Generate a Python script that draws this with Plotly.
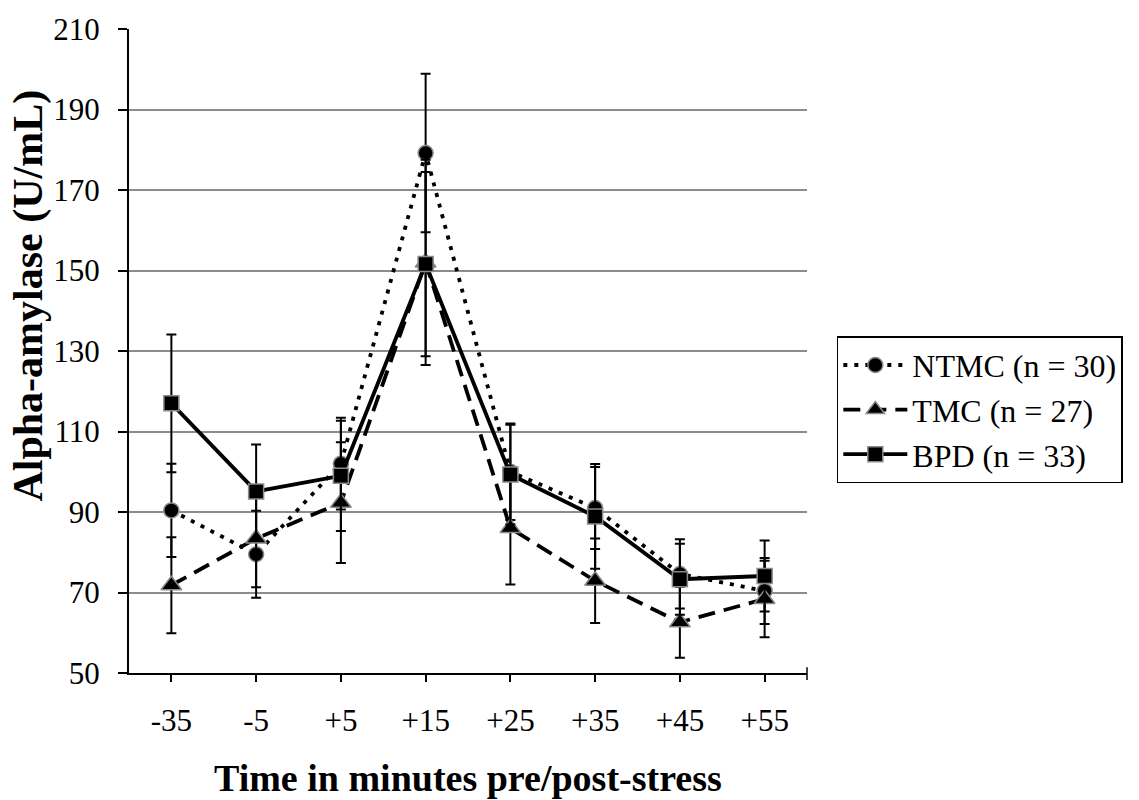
import plotly.graph_objects as go

categories = ["-35", "-5", "+5", "+15", "+25", "+35", "+45", "+55"]

ntmc = [90.4, 79.5, 102.0, 179.2, 100.0, 91.0, 74.6, 70.4]
ntmc_err = [11.6, 10.8, 11.4, 19.7, 12.0, 10.2, 8.6, 8.2]

tmc = [71.8, 83.4, 92.3, 152.0, 86.0, 72.9, 62.6, 68.4]
tmc_err = [11.9, 12.1, 15.0, 25.5, 14.0, 10.5, 8.8, 9.5]

bpd = [117.0, 95.1, 99.0, 151.6, 99.3, 88.9, 73.3, 74.1]
bpd_err = [17.1, 11.7, 13.7, 22.9, 12.4, 13.0, 8.8, 8.8]

y_ticks = [50, 70, 90, 110, 130, 150, 170, 190, 210]

FONT = "Liberation Serif, Times New Roman, serif"

fig = go.Figure()

def add(name, vals, errs, symbol, size, dash):
    fig.add_trace(go.Scatter(
        x=categories, y=vals, name=name, mode="lines+markers",
        line=dict(color="black", width=3.8, dash=dash),
        marker=dict(symbol=symbol, size=size, color="black",
                    line=dict(color="#8a8a8a", width=1.5)),
        error_y=dict(type="data", array=errs, visible=True,
                     color="black", thickness=2, width=5),
    ))

add("NTMC (n = 30)", ntmc, ntmc_err, "circle", 15, "4px,7px")
add("TMC (n = 27)", tmc, tmc_err, "triangle-up", 18, "17px,9px")
add("BPD (n = 33)", bpd, bpd_err, "square", 15, "solid")

fig.update_layout(
    width=1139, height=800,
    margin=dict(l=129, r=332, t=23, b=127),
    paper_bgcolor="white", plot_bgcolor="white",
    font=dict(family=FONT, size=31, color="black"),
    showlegend=True,
    legend=dict(
        x=1.044, y=0.523, xanchor="left", yanchor="top",
        bordercolor="black", borderwidth=1.5,
        font=dict(family=FONT, size=32, color="black"),
        itemwidth=64, bgcolor="white",
    ),
    xaxis=dict(
        type="category", categoryorder="array", categoryarray=categories,
        range=[-0.5, 7.5],
        showline=True, linecolor="black", linewidth=2,
        ticks="outside", ticklen=7, tickwidth=1.5, tickcolor="black",
        showgrid=False, zeroline=False,
        tickfont=dict(family=FONT, size=31),
        ticklabelstandoff=12,
    ),
    yaxis=dict(
        range=[50, 210], tickvals=y_ticks,
        showline=True, linecolor="black", linewidth=2,
        ticks="outside", ticklen=9, tickwidth=1.5, tickcolor="black",
        showgrid=True, gridcolor="#8c8c8c", gridwidth=1.5,
        zeroline=False,
        tickfont=dict(family=FONT, size=31),
        ticklabelstandoff=12,
    ),
    annotations=[
        dict(text="<b>Time in minutes pre/post-stress</b>", xref="paper", yref="paper",
             x=0.5, y=-0.163, xanchor="center", yanchor="middle", showarrow=False,
             font=dict(family=FONT, size=38, color="black")),
        dict(text="<b>Alpha-amylase (U/mL)</b>", xref="paper", yref="paper",
             x=-0.1475, y=0.586, xanchor="center", yanchor="middle", showarrow=False,
             textangle=-90, font=dict(family=FONT, size=42, color="black")),
    ],
    shapes=[
        dict(type="line", xref="paper", yref="paper", x0=1, x1=1, y0=-0.011, y1=0.009,
             line=dict(color="black", width=1.5)),
        dict(type="line", xref="paper", yref="paper", x0=-0.0133, x1=0, y0=0, y1=0,
             line=dict(color="black", width=2)),
    ],
)

fig.write_html("out.html")
